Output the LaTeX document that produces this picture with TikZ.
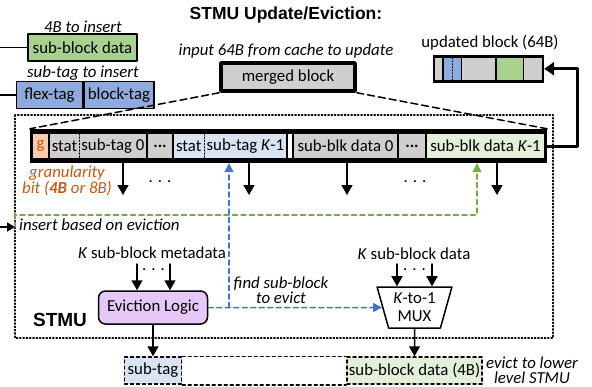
\documentclass[tikz,border=0pt]{standalone}
\usepackage{fontspec}
\setmainfont{Carlito}
\newfontfamily\arialfont{Liberation Sans}
\usepackage{xcolor}
\usetikzlibrary{arrows.meta,shapes.geometric}

\definecolor{cgray}{HTML}{D0CECE}
\definecolor{cblue}{HTML}{8FAADC}
\definecolor{cbluel}{HTML}{DAE3F3}
\definecolor{cgreen}{HTML}{A9D18E}
\definecolor{cgreenl}{HTML}{E2F0D9}
\definecolor{corange}{HTML}{C55A11}
\definecolor{corangel}{HTML}{F8CBAD}
\definecolor{cpurple}{HTML}{E6C8F8}
\definecolor{cbluedash}{HTML}{4472C4}
\definecolor{cgreendash}{HTML}{70AD47}

\newcommand\nrm{\fontsize{16.8}{18}\selectfont}

\begin{document}
\begin{tikzpicture}[x=1pt,y=-1pt, font=\nrm, line cap=round, line join=round]
  \useasboundingbox (0,0) rectangle (592,386);

  % ===== styles =====
  \tikzset{
    lbl/.style={font=\nrm\itshape, inner sep=0pt},
    box/.style={draw=black, line width=1.5pt, inner sep=0pt, minimum height=27},
    cell/.style={inner sep=0pt, minimum height=24},
    ucell/.style={inner sep=0pt, minimum height=22},
    dots/.style={inner sep=0pt},
    arr/.style={line width=1.5pt, -{Triangle[width=11pt,length=10pt]}},
    barr/.style={draw=cbluedash, line width=1.5pt, dash pattern=on 5pt off 3.5pt, -{Triangle[width=9pt,length=9pt]}},
    garr/.style={draw=cgreendash, line width=1.5pt, dash pattern=on 5pt off 3.5pt, -{Triangle[width=9pt,length=9pt]}},
    dl/.style={line width=1.5pt, dash pattern=on 7pt off 4pt}
  }

  % ===== STMU box =====
  \draw[dotted, line width=1.3pt] (15,115) rectangle (553,338);

  % ===== title =====
  \node[font=\arialfont\bfseries\fontsize{17.5}{20}\selectfont] (title) at (286,15) {STMU Update/Eviction:};

  % ===== inputs (left) =====
  \node[lbl] (in4b) at (83,27) {4B to insert};
  \node[box, fill=cgreen, minimum width=109] (sbdIn) at (82.5,47.5) {sub-block data};
  \coordinate (l1) at (0,47.5);
  \draw[line width=1.5pt] (l1) -- (sbdIn.west);

  \node[lbl] (stIn) at (83,73) {sub-tag to insert};
  \node[box, fill=cblue, minimum width=66] (flex) at (49.5,95) {flex-tag};
  \node[box, fill=cblue, minimum width=70, anchor=west] (btag) at (flex.east) {block-tag};
  \coordinate (l2) at (0,95);
  \draw[line width=1.5pt] (l2) -- (flex.west);

  % ===== merged block =====
  \node[lbl] (inp) at (286,51) {input 64B from cache to update};
  \node[box, fill=cgray, line width=3.5pt, minimum width=134, minimum height=28] (mb) at (288,77) {merged block};

  % ===== record =====
  \node[fill=black, minimum width=517, minimum height=34, inner sep=0pt] (rec) at (288.5,146) {};
  \node[cell, fill=corangel, text=corange, minimum width=15] (g) at (40.5,146) {g};
  \node[cell, fill=cgray, minimum width=29] (st0) at (64.5,146) {stat};
  \node[cell, fill=cgray, minimum width=67, anchor=west] (sub0) at (st0.east) {sub-tag 0};
  \node[cell, fill=cgray, minimum width=24] (dt1) at (160,146) {\textbf{...}};
  \node[cell, fill=cbluel, minimum width=30.5] (stK) at (188.75,146) {stat};
  \node[cell, fill=cbluel, minimum width=82, anchor=west] (subK) at (stK.east) {sub-tag \textit{K}-1};
  \node[cell, fill=white, minimum width=4] (gap) at (290,146) {};
  \node[cell, fill=cgray, minimum width=103] (bd0) at (345.5,146) {sub-blk data 0};
  \node[cell, fill=cgray, minimum width=26] (dt2) at (412,146) {\textbf{...}};
  \node[cell, fill=cgreenl, minimum width=117] (bdK) at (485.5,146) {sub-blk data \textit{K}-1};
  \draw[dotted, line width=1.2pt] (st0.north east) -- (st0.south east);
  \draw[dotted, line width=1.2pt] (stK.north east) -- (stK.south east);

  % dashed lines merged block -> record
  \draw[dl] (mb.south west) -- (rec.north west);
  \draw[dl] (mb.south east) -- (rec.north east);

  % ===== outputs of record =====
  \foreach \x/\n in {123/o1,249/o2,347/o3,497/o4}{
    \coordinate (\n) at (\x,195);
    \draw[arr] (rec.south -| \n) -- (\n);
  }
  \node[dots] (dd1) at (160,182) {. . .};
  \node[dots] (dd2) at (415,182) {. . .};

  \node[lbl, text=corange, align=center, font=\fontsize{16.8}{16}\selectfont\itshape] (gran) at (67,181) {granularity\\bit (\textbf{4B} or 8B)};

  % ===== insert on eviction =====
  \coordinate (insL) at (0,227);
  \coordinate (ins) at (15,227);
  \draw[line width=1.5pt, -{Triangle[width=9pt,length=8pt]}] (insL) -- (ins);
  \node[lbl, anchor=west] (insT) at (19,225) {insert based on eviction};
  \coordinate (gc) at (477,215);
  \draw[garr] (ins) |- (gc) -- (rec.south -| gc);

  % ===== updated block =====
  \node (updT) at (490,43) {updated block (64B)};
  \node[fill=black, minimum width=111, minimum height=27.5, inner sep=0pt] (ub) at (488.5,68.75) {};
  \node[ucell, fill=cgray, minimum width=7] (u1) at (438.5,69) {};
  \node[ucell, fill=cblue, minimum width=17] (u2) at (452,69) {};
  \node[ucell, fill=cgray, minimum width=33] (u3) at (478.5,69) {};
  \node[ucell, fill=cgreen, minimum width=26] (u4) at (509.5,69) {};
  \node[ucell, fill=cgray, minimum width=17.5] (u5) at (532.75,69) {};
  \draw[dotted, line width=1pt] (u2.north) -- (u2.south);

  \coordinate (fb) at (577,100);
  \draw[line width=3pt, -{Triangle[width=13pt,length=10pt]}] (rec.east) -- (rec.east -| fb) |- (ub.east);

  % ===== eviction logic =====
  \node[inner sep=0pt] (meta) at (152,253) {\textit{K} sub-block metadata};
  \node[draw, line width=1.5pt, rounded corners=7pt, fill=cpurple, minimum width=109, minimum height=33] (evl) at (153,307.5) {Eviction Logic};
  \coordinate (m1) at (137,264);
  \coordinate (m2) at (170,264);
  \draw[arr] (m1) -- (m1 |- evl.north);
  \draw[arr] (m2) -- (m2 |- evl.north);
  \node[dots] (dd3) at (153.5,270) {. . .};

  \node[font=\arialfont\bfseries\fontsize{19}{20}\selectfont] (stmu) at (60,320) {STMU};

  % ===== mux =====
  \node[inner sep=0pt] (dat) at (414,254) {\textit{K} sub-block data};
  \node[trapezium, trapezium angle=72, shape border rotate=180, trapezium stretches=true, draw, line width=1.5pt, fill=white, minimum width=75, minimum height=41, inner sep=0pt, align=center] (mux) at (414.5,307.5) {\textit{K}-to-1\\MUX};
  \coordinate (d1) at (397,264);
  \coordinate (d2) at (432,264);
  \draw[arr] (d1) -- (d1 |- mux.north);
  \draw[arr] (d2) -- (d2 |- mux.north);
  \node[dots] (dd4) at (414.5,270) {. . .};

  % blue: find sub-block to evict
  \draw[barr] (evl.east) -- (mux.west);
  \coordinate (bj) at (229,307.5);
  \draw[barr] (bj) -- (rec.south -| bj);
  \node[lbl, align=center, font=\fontsize{16.8}{15}\selectfont\itshape] (find) at (281,290) {find sub-block\\to evict};

  % ===== evicted entry =====
  \node[box, dashed, fill=cbluel, minimum width=57] (stOut) at (153,370.5) {sub-tag};
  \node[box, dashed, fill=cgreenl, minimum width=135] (sbdOut) at (414.5,370.5) {sub-block data (4B)};
  \draw[line width=1.5pt, dashed] (stOut.north east) -- (sbdOut.north west);
  \draw[line width=1.5pt, dashed] (stOut.south east) -- (sbdOut.south west);
  \draw[arr] (evl.south) -- (stOut.north);
  \draw[arr] (mux.south) -- (sbdOut.north);
  \node[lbl, align=center, font=\fontsize{16.8}{15}\selectfont\itshape] (evt) at (532,370) {evict to lower\\level STMU};
\end{tikzpicture}
\end{document}
